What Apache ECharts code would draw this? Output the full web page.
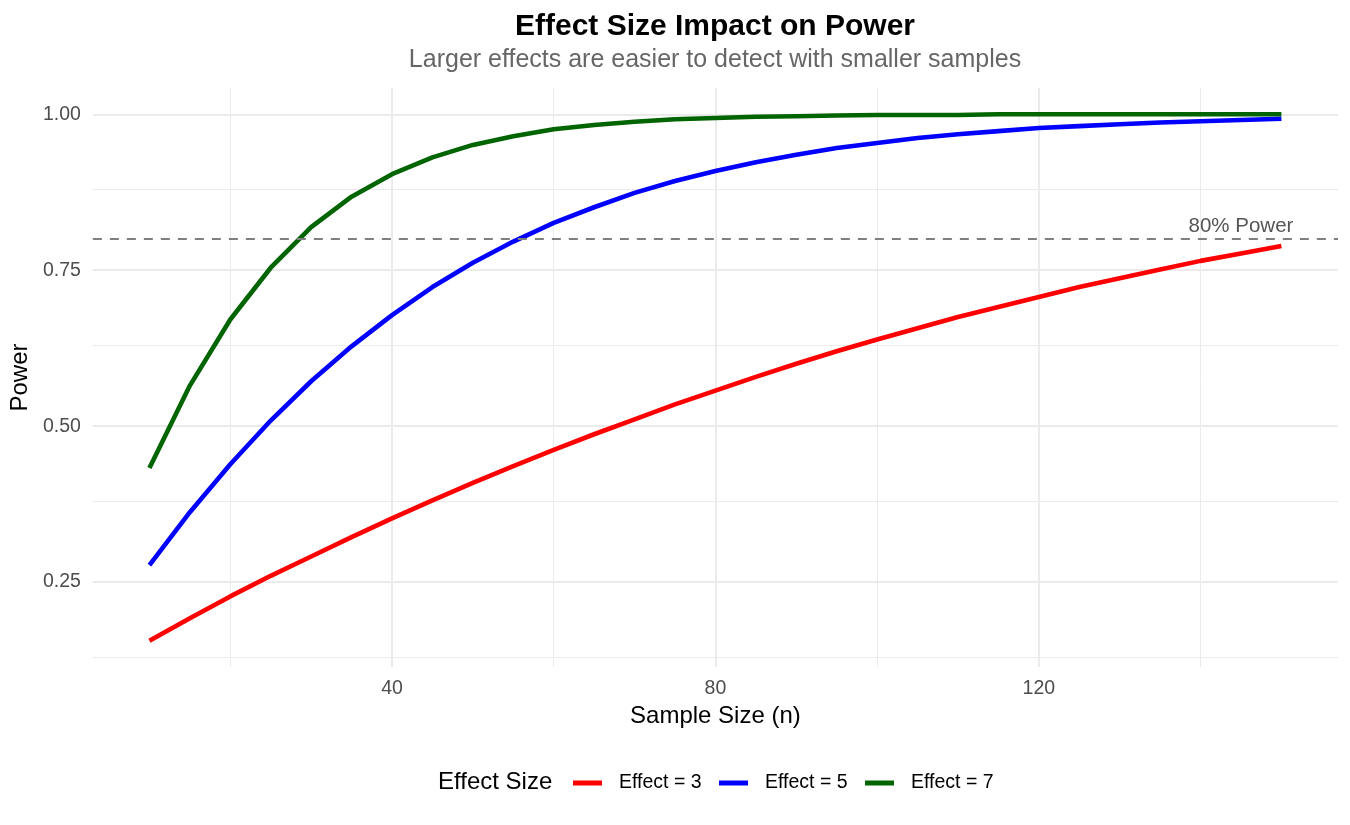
<!DOCTYPE html>
<html>
<head>
<meta charset="utf-8">
<script src="https://cdn.jsdelivr.net/npm/echarts@6/dist/echarts.min.js"></script>
<style>
html,body{margin:0;padding:0;background:#ffffff;}
#chart{width:1350px;height:825px;}
</style>
</head>
<body>
<div id="chart"></div>
<script>
// ---- data ----
const sampleSizes = [10,15,20,25,30,35,40,45,50,55,60,65,70,75,80,85,90,95,100,105,110,115,120,125,130,135,140,145,150];
const powerEffect3 = [0.156,0.192,0.227,0.260,0.291,0.322,0.352,0.381,0.409,0.436,0.462,0.487,0.511,0.535,0.557,0.579,0.600,0.620,0.639,0.657,0.675,0.691,0.707,0.723,0.737,0.751,0.765,0.777,0.789];
const powerEffect5 = [0.277,0.362,0.439,0.509,0.572,0.628,0.678,0.723,0.762,0.796,0.826,0.851,0.874,0.893,0.909,0.923,0.935,0.946,0.954,0.962,0.968,0.973,0.978,0.981,0.984,0.987,0.989,0.991,0.993];
const powerEffect7 = [0.433,0.565,0.671,0.754,0.819,0.868,0.904,0.931,0.951,0.965,0.976,0.983,0.988,0.992,0.994,0.996,0.997,0.998,0.999,0.999,0.999,1.000,1.000,1.000,1.000,1.000,1.000,1.000,1.000];
const seriesNames = ['Effect = 3','Effect = 5','Effect = 7'];
const xTickLabels = [40,80,120];
const xMinorBreaks = [20,60,100,140];
const yTickLabels = [0.25,0.50,0.75,1.00];
const yMinorBreaks = [0.125,0.375,0.625,0.875];
const targetPower = 0.8;
const annotationX = 145;
const annotationY = 0.82;
const annotationText = '80% Power';

// ---- styling ----
const FONT = 'Liberation Sans, Arial, Helvetica, sans-serif';
const seriesColors = ['#FF0000','#0000FF','#006400'];
const allSeries = [powerEffect3, powerEffect5, powerEffect7];

// ggplot-like 5% expansion
const xLo = Math.min(...sampleSizes), xHi = Math.max(...sampleSizes);
const allVals = [].concat(...allSeries);
const yLo = Math.min(...allVals), yHi = Math.max(...allVals);
const xPad = (xHi - xLo) * 0.05, yPad = (yHi - yLo) * 0.05;

const gridLineData = []
  .concat(xMinorBreaks.map(v => ({xAxis: v, lineStyle: {color: '#EBEBEB', width: 1, type: 'solid'}})))
  .concat(yMinorBreaks.map(v => ({yAxis: v, lineStyle: {color: '#EBEBEB', width: 1, type: 'solid'}})))
  .concat(xTickLabels.map(v => ({xAxis: v, lineStyle: {color: '#EBEBEB', width: 2, type: 'solid'}})))
  .concat(yTickLabels.map(v => ({yAxis: v, lineStyle: {color: '#EBEBEB', width: 2, type: 'solid'}})));

const dataSeries = seriesNames.map((name, i) => ({
  name: name,
  type: 'line',
  data: sampleSizes.map((n, k) => [n, allSeries[i][k]]),
  showSymbol: false,
  symbol: 'none',
  lineStyle: {width: 4.6, color: seriesColors[i], cap: 'butt', join: 'round'},
  itemStyle: {color: seriesColors[i]},
  z: 3,
  animation: false
}));

const legendLefts = [573, 719, 865];

const option = {
  backgroundColor: '#ffffff',
  animation: false,
  title: [
    {text: 'Effect Size Impact on Power', left: 715, top: 12, textAlign: 'center', padding: 0,
     textStyle: {fontFamily: FONT, fontSize: 30, fontWeight: 'bold', color: '#000000'}},
    {text: 'Larger effects are easier to detect with smaller samples', left: 715, top: 48, textAlign: 'center', padding: 0,
     textStyle: {fontFamily: FONT, fontSize: 25, fontWeight: 'normal', color: '#666666'}},
    {text: 'Effect Size', left: 438, top: 770, padding: 0,
     textStyle: {fontFamily: FONT, fontSize: 24, fontWeight: 'normal', color: '#000000'}}
  ],
  legend: seriesNames.map((name, i) => ({
    data: [name],
    left: legendLefts[i],
    top: 773,
    padding: 0,
    icon: 'rect',
    itemWidth: 29,
    itemHeight: 5,
    selectedMode: false,
    textStyle: {fontFamily: FONT, fontSize: 19.5, color: '#000000', padding: [0, 0, 0, 12]}
  })),
  grid: {left: 91, right: 12, top: 88, bottom: 158, containLabel: false},
  xAxis: {
    type: 'value',
    min: xLo - xPad,
    max: xHi + xPad,
    name: 'Sample Size (n)',
    nameLocation: 'middle',
    nameGap: 35,
    nameTextStyle: {fontFamily: FONT, fontSize: 24, color: '#000000'},
    axisLine: {show: false},
    axisTick: {show: false},
    splitLine: {show: false},
    axisLabel: {customValues: xTickLabels, margin: 12, fontFamily: FONT, fontSize: 19.5, color: '#4D4D4D',
      formatter: v => String(v)}
  },
  yAxis: {
    type: 'value',
    min: yLo - yPad,
    max: yHi + yPad,
    name: 'Power',
    nameLocation: 'middle',
    nameRotate: 90,
    nameGap: 53,
    nameTextStyle: {fontFamily: FONT, fontSize: 24, color: '#000000'},
    axisLine: {show: false},
    axisTick: {show: false},
    splitLine: {show: false},
    axisLabel: {customValues: yTickLabels, margin: 12, fontFamily: FONT, fontSize: 19.5, color: '#4D4D4D',
      formatter: v => Number(v).toFixed(2)}
  },
  series: [
    {
      type: 'line', data: [], z: 0, silent: true,
      markLine: {silent: true, symbol: ['none','none'], label: {show: false}, z: 0, animation: false,
        data: gridLineData}
    }
  ].concat(dataSeries).concat([
    {
      type: 'line', data: [], z: 4, silent: true,
      markLine: {silent: true, symbol: ['none','none'], label: {show: false}, animation: false,
        lineStyle: {color: '#7F7F7F', width: 2, type: [9, 8]},
        data: [{yAxis: targetPower}]},
      markPoint: {silent: true, symbol: 'rect', symbolSize: 0, animation: false,
        label: {show: true, position: 'inside', formatter: annotationText, fontFamily: FONT, fontSize: 20.5, color: '#555555'},
        data: [{coord: [annotationX, annotationY]}]}
    }
  ])
};

const chart = echarts.init(document.getElementById('chart'), null, {renderer: 'canvas'});
chart.setOption(option);
</script>
</body>
</html>
